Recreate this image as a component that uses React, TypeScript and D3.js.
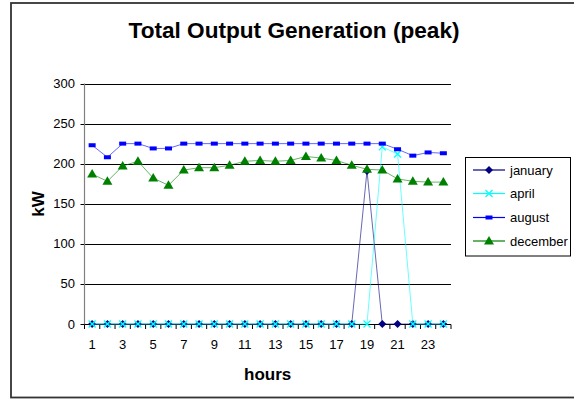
import React from "react";
import * as d3 from "d3";

const hours = d3.range(1, 25);
const january = [0, 0, 0, 0, 0, 0, 0, 0, 0, 0, 0, 0, 0, 0, 0, 0, 0, 0, 191, 0, 0, 0, 0, 0];
const april = [0, 0, 0, 0, 0, 0, 0, 0, 0, 0, 0, 0, 0, 0, 0, 0, 0, 0, 0, 221, 212, 0, 0, 0];
const august = [223, 208, 225, 225, 219, 219, 225, 225, 225, 225, 225, 225, 225, 225, 225, 225, 225, 225, 225, 225, 218, 210, 214, 213];
const december = [187, 178, 197, 203, 182, 173, 192, 195, 195, 198, 203, 204, 203, 204, 209, 207, 204, 198, 193, 192, 181, 178, 177, 177];
const yTicks = [0, 50, 100, 150, 200, 250, 300];
const xLabels = [1, 3, 5, 7, 9, 11, 13, 15, 17, 19, 21, 23];

const series = [
  { name: "january", values: january, color: "#000080", marker: "diamond" },
  { name: "april", values: april, color: "#00FFFF", marker: "x" },
  { name: "august", values: august, color: "#0000FF", marker: "rect" },
  { name: "december", values: december, color: "#008000", marker: "triangle" },
];

const FONT = "Liberation Sans, Arial, sans-serif";

function Marker({ type, x, y, color }: { type: string; x: number; y: number; color: string }) {
  if (type === "diamond") {
    return <path d={`M${x},${y - 4}L${x + 4},${y}L${x},${y + 4}L${x - 4},${y}Z`} fill={color} />;
  }
  if (type === "x") {
    return (
      <path d={`M${x - 3.5},${y - 3.5}L${x + 3.5},${y + 3.5}M${x - 3.5},${y + 3.5}L${x + 3.5},${y - 3.5}`} stroke={color} strokeWidth={1.2} />
    );
  }
  if (type === "rect") {
    return <rect x={x - 3.5} y={y - 2} width={7} height={4} fill={color} />;
  }
  return <path d={`M${x},${y - 5}L${x + 5},${y + 3.5}L${x - 5},${y + 3.5}Z`} fill={color} />;
}

export default function App() {
  const left = 84.5;
  const right = 451;
  const x = d3.scaleBand<number>().domain(hours).range([left, right]);
  const y = d3.scaleLinear().domain([0, 300]).range([324, 83.5]);
  const cx = (h: number) => (x(h) as number) + x.bandwidth() / 2;
  const line = d3
    .line<number>()
    .x((_, i) => cx(hours[i]))
    .y((v) => y(v));

  const legendY = [170, 193.5, 217.5, 241];

  return (
    <svg width={574} height={400} style={{ position: "absolute", left: 0, top: 0 }} fontFamily={FONT}>
      <rect x={0} y={0} width={574} height={400} fill="#fff" />
      <rect x={11} y={3} width={600} height={394.5} fill="none" stroke="#333" strokeWidth={1.8} />
      <text x={294} y={38} textAnchor="middle" fontSize={22.6} fontWeight="bold">
        Total Output Generation (peak)
      </text>

      {yTicks.map((t) => (
        <g key={t}>
          {t > 0 && <line x1={left} x2={right} y1={Math.round(y(t)) + 0.5} y2={Math.round(y(t)) + 0.5} stroke="#000" strokeWidth={1} />}
          <line x1={80.5} x2={left} y1={Math.round(y(t)) + 0.5} y2={Math.round(y(t)) + 0.5} stroke="#000" />
          <text x={75} y={y(t)} dy="0.35em" textAnchor="end" fontSize={13}>
            {t}
          </text>
        </g>
      ))}
      <line x1={left} x2={left} y1={83.5} y2={324} stroke="#808080" strokeWidth={1.2} />
      <line x1={left} x2={right} y1={324.5} y2={324.5} stroke="#000" strokeWidth={1.2} />
      {d3.range(0, 25).map((i) => {
        const xx = left + i * x.bandwidth();
        return <line key={i} x1={xx} x2={xx} y1={324.5} y2={329} stroke="#000" />;
      })}
      {xLabels.map((h) => (
        <text key={h} x={cx(h)} y={349} textAnchor="middle" fontSize={13}>
          {h}
        </text>
      ))}
      <text x={267.7} y={380} textAnchor="middle" fontSize={17} fontWeight="bold">
        hours
      </text>
      <text transform="translate(44,204) rotate(-90)" textAnchor="middle" fontSize={17} fontWeight="bold">
        kW
      </text>

      {series.map((s) => (
        <g key={s.name}>
          <path d={line(s.values) || ""} fill="none" stroke={s.color} strokeWidth={0.8} strokeOpacity={0.75} />
          {s.values.map((v, i) => (
            <Marker key={i} type={s.marker} x={cx(hours[i])} y={y(v)} color={s.color} />
          ))}
        </g>
      ))}

      <rect x={465.5} y={157.5} width={105} height={98.5} fill="#fff" stroke="#000" strokeWidth={1} />
      {series.map((s, i) => (
        <g key={s.name}>
          <line x1={473} x2={505} y1={legendY[i]} y2={legendY[i]} stroke={s.color} strokeWidth={1.2} />
          <Marker type={s.marker} x={489} y={legendY[i]} color={s.color} />
          <text x={510} y={legendY[i]} dy="0.35em" fontSize={13}>
            {s.name}
          </text>
        </g>
      ))}
    </svg>
  );
}
